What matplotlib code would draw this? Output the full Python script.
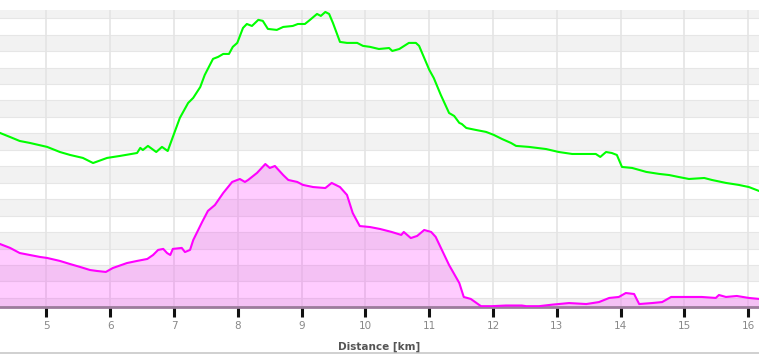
import numpy as np
import matplotlib
matplotlib.use("Agg")
import matplotlib.pyplot as plt

# green series (distance km, value)
green_km = [4.27, 4.43, 4.58, 4.74, 5.01, 5.21, 5.37, 5.57, 5.73, 5.95, 6.15, 6.42, 6.47, 6.51,
            6.59, 6.72, 6.81, 6.90, 6.98, 7.09, 7.22, 7.30, 7.41, 7.48, 7.61, 7.69, 7.77, 7.86,
            7.92, 7.99, 8.08, 8.14, 8.22, 8.32, 8.39, 8.47, 8.61, 8.71, 8.86, 8.94, 9.05, 9.13,
            9.24, 9.30, 9.37, 9.43, 9.49, 9.60, 9.71, 9.87, 9.96, 10.07, 10.21, 10.37, 10.42,
            10.53, 10.68, 10.79, 10.84, 11.00, 11.07, 11.18, 11.31, 11.39, 11.47, 11.51, 11.58,
            11.73, 11.89, 12.01, 12.14, 12.28, 12.36, 12.56, 12.83, 13.03, 13.24, 13.46, 13.61,
            13.68, 13.77, 13.86, 13.94, 14.02, 14.18, 14.40, 14.60, 14.76, 14.91, 15.07, 15.31,
            15.43, 15.65, 15.85, 16.01, 16.17]
green_val = [105.8, 103.3, 100.9, 99.7, 97.3, 94.2, 92.4, 90.6, 87.5, 90.6, 91.8, 93.6, 96.7, 95.4,
             97.9, 94.2, 97.3, 94.8, 103.3, 114.9, 124.0, 127.1, 133.7, 141.0, 150.8, 152.0, 153.8, 153.8,
             158.1, 160.5, 169.6, 172.0, 170.8, 174.5, 173.9, 169.0, 168.4, 170.2, 170.8, 172.0, 172.0, 174.5,
             178.1, 176.9, 179.3, 178.1, 172.6, 161.1, 160.5, 160.5, 158.7, 158.1, 156.8, 157.4, 155.6,
             156.8, 160.5, 160.5, 158.7, 144.1, 139.2, 128.9, 117.9, 116.1, 111.9, 111.2, 108.8,
             107.6, 106.4, 104.6, 102.1, 99.7, 97.9, 97.3, 96.0, 94.2, 93.0, 93.0, 93.0,
             91.2, 94.2, 93.6, 92.4, 85.1, 84.5, 82.1, 80.9, 80.2, 79.0, 77.8, 78.4,
             77.2, 75.4, 74.2, 72.9, 70.5]

# magenta series (distance km, value)
pink_km = [4.27, 4.43, 4.58, 4.74, 4.90, 5.01, 5.21, 5.37, 5.53, 5.68, 5.79, 5.93, 6.04, 6.26,
           6.42, 6.58, 6.67, 6.75, 6.83, 6.89, 6.94, 6.98, 7.12, 7.17, 7.25, 7.30, 7.44, 7.53,
           7.64, 7.77, 7.91, 8.03, 8.11, 8.16, 8.30, 8.43, 8.50, 8.58, 8.71, 8.79, 8.93, 9.02,
           9.18, 9.37, 9.47, 9.60, 9.71, 9.80, 9.91, 10.07, 10.23, 10.41, 10.56, 10.60, 10.71,
           10.81, 10.92, 11.03, 11.10, 11.31, 11.47, 11.54, 11.65, 11.81, 11.98, 12.20, 12.30,
           12.45, 12.52, 12.72, 12.92, 13.19, 13.46, 13.66, 13.82, 13.97, 14.08, 14.21, 14.29,
           14.49, 14.65, 14.79, 15.02, 15.27, 15.49, 15.54, 15.65, 15.82, 16.01, 16.17]
pink_val = [38.3, 35.9, 32.8, 31.6, 30.4, 29.8, 28.0, 26.1, 24.3, 22.5, 21.9, 21.3, 23.7, 26.7,
            28.0, 29.2, 31.6, 34.7, 35.3, 32.8, 31.6, 35.3, 35.9, 33.4, 34.7, 40.7, 51.7, 58.4,
            62.0, 69.3, 76.0, 77.8, 76.0, 77.2, 81.5, 86.9, 84.5, 85.7, 80.2, 77.2, 76.0, 74.2,
            72.9, 72.3, 75.4, 72.9, 68.1, 57.1, 49.2, 48.6, 47.4, 45.6, 43.8, 45.6, 41.9,
            43.2, 46.8, 45.6, 42.6, 25.5, 14.6, 6.1, 4.9, 0.5, 0.5, 0.9, 0.9,
            0.9, 0.5, 0.5, 1.4, 2.4, 1.8, 3.0, 5.5, 6.1, 8.5, 7.9, 1.8,
            2.4, 3.0, 6.1, 6.1, 6.1, 5.5, 7.3, 6.1, 6.7, 5.5, 4.9]

km_ticks = list(range(5, 17))

fig = plt.figure(figsize=(7.59, 3.54), dpi=100)
ax = fig.add_axes([0, 1 - 307 / 354, 1, 297 / 354])
ax.set_xlim(4.2712, 4.2712 + 759 / 63.8)
ax.set_ylim(0, 180.5)

# alternating background bands
edges = [0] + list(np.arange(5.5, 180.5, 10)) + [180.5]
for i in range(len(edges) - 1):
    if i % 2 == 0:
        ax.axhspan(edges[i], edges[i + 1], color="#f2f2f2", lw=0, zorder=0)
for e in edges[1:-1]:
    ax.axhline(e, color="#e6e6e6", lw=0.8, zorder=0.5)
for k in km_ticks:
    ax.axvline(k, color="#e4e4e4", lw=1.2, zorder=0.5)

ax.fill_between(pink_km, pink_val, 0, color="#ff00ff", alpha=0.2, lw=0, zorder=1)
ax.plot(pink_km, pink_val, color="#ff00ff", lw=1.5, zorder=3)
ax.plot(green_km, green_val, color="#00ff00", lw=1.5, zorder=3)

for s in ["top", "left", "right"]:
    ax.spines[s].set_visible(False)
ax.spines["bottom"].set_color("#9c7c9c")
ax.spines["bottom"].set_linewidth(2)
ax.set_yticks([])
ax.set_xticks(km_ticks)
ax.set_xticklabels([str(k) for k in km_ticks], color="#888888", fontsize=7.5)
ax.tick_params(axis="x", length=7.5, width=2.2, color="#111111", pad=2.5)

fig.text(0.5, 1 - 347 / 354, "Distance [km]", ha="center", va="center",
         fontsize=7.5, fontweight="bold", color="#555555")
fig.add_artist(plt.Line2D([0, 1], [1 - 352.5 / 354] * 2, color="#c8c8c8", lw=1.2))

fig.savefig("out.png", dpi=100)
